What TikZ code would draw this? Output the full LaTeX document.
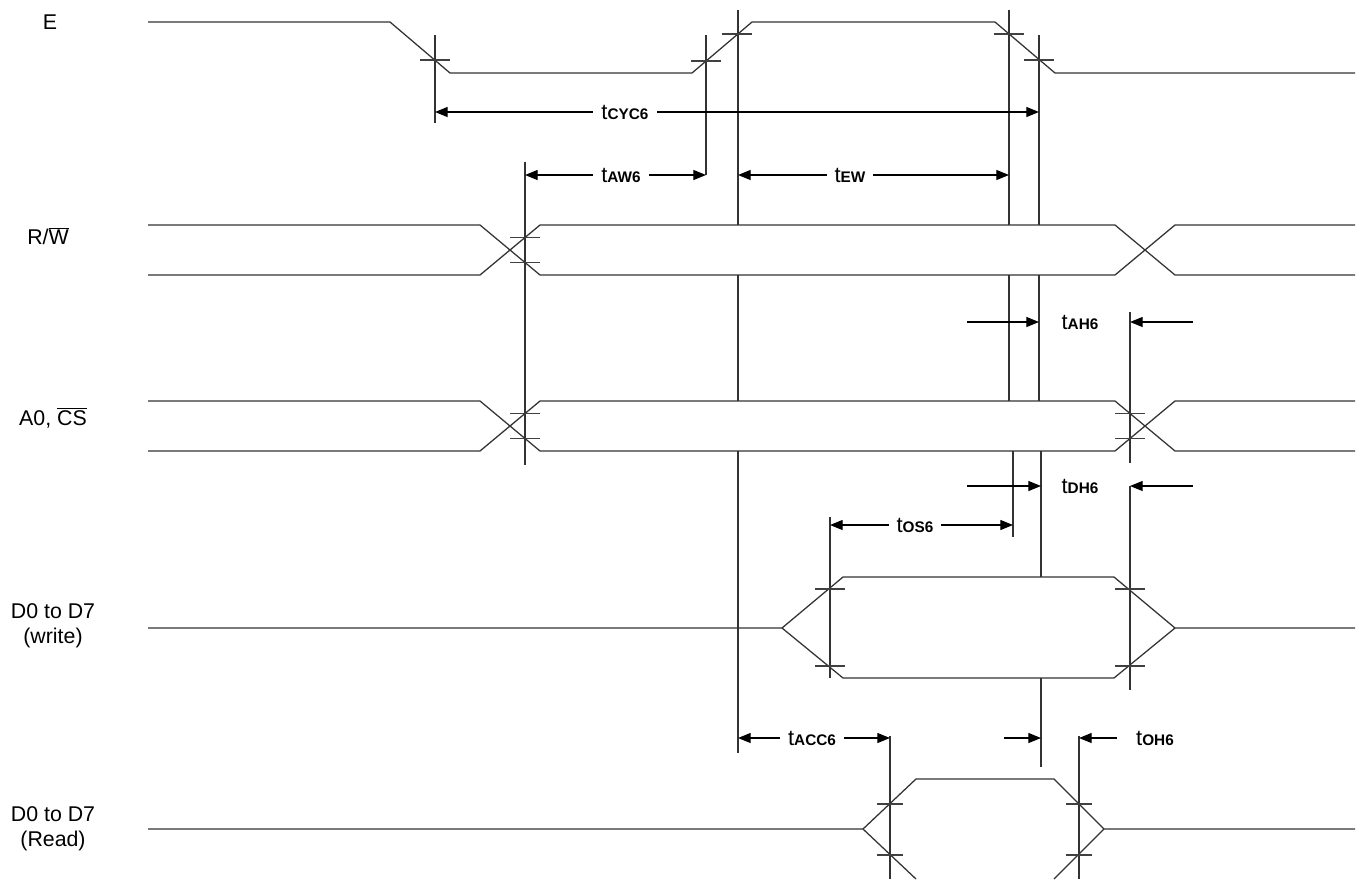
\documentclass[tikz,border=0pt]{standalone}
\usepackage{fontspec}
\setmainfont{Liberation Sans}
\usetikzlibrary{arrows.meta}
\newcommand\tsym[1]{{\fontsize{16.5}{18}\selectfont t}{\fontsize{11.5}{13}\selectfont\bfseries #1}}
\begin{document}
\begin{tikzpicture}[x=0.75pt,y=-0.75pt,line width=0.95pt,
  sig/.style={draw=black!80,line join=miter},
  vln/.style={draw=black!80},
  tck/.style={draw=black!75},
  tri/.tip={Triangle[length=9.5pt,width=7.5pt]},
  dimone/.style={draw=black,-tri},
  dimtwo/.style={draw=black,tri-tri},
  sname/.style={font=\fontsize{16}{19}\selectfont,align=center,inner sep=0pt},
  tlabel/.style={fill=white,inner xsep=6pt,inner ysep=1pt}]
\useasboundingbox (0,0) rectangle (1364,879);

% ---------- signal names ----------
\node[sname] (nE) at (50,22) {E};
\node[sname] (nRW) at (48,236) {R/$\overline{\mbox{W}}$};
\node[sname] (nA0) at (53,418) {A0, $\overline{\mbox{CS}}$};
\node[sname] (nDW) at (53,626) {D0 to D7\\(write)};
\node[sname] (nDR) at (53,829) {D0 to D7\\(Read)};

% ---------- E ----------
\draw[sig] (148,22) -- (390,22) -- (450,73) -- (692,73) -- (752,22) -- (995,22) -- (1055,73) -- (1355,73);

% ---------- R/W ----------
\draw[sig] (148,225) -- (480,225) -- (540,275) -- (1115,275) -- (1175,225) -- (1355,225);
\draw[sig] (148,275) -- (480,275) -- (540,225) -- (1115,225) -- (1175,275) -- (1355,275);

% ---------- A0, CS ----------
\draw[sig] (148,401) -- (480,401) -- (540,451) -- (1115,451) -- (1175,401) -- (1355,401);
\draw[sig] (148,451) -- (480,451) -- (540,401) -- (1115,401) -- (1175,451) -- (1355,451);

% ---------- D0-D7 write ----------
\draw[sig] (148,628) -- (782,628) -- (843,577) -- (1114,577) -- (1175,628) -- (1355,628);
\draw[sig] (782,628) -- (843,678) -- (1114,678) -- (1175,628);

% ---------- D0-D7 read ----------
\draw[sig] (148,829) -- (863,829) -- (916,779) -- (1054,779) -- (1104,829) -- (1355,829);
\draw[sig] (863,829) -- (916,879);
\draw[sig] (1054,879) -- (1104,829);

% ---------- vertical reference lines ----------
\draw[vln] (435,35) -- (435,123);
\draw[vln] (706,35) -- (706,175);
\draw[vln] (738,10) -- (738,225);
\draw[vln] (738,275) -- (738,401);
\draw[vln] (738,451) -- (738,753);
\draw[vln] (1009,10) -- (1009,225);
\draw[vln] (1009,275) -- (1009,401);
\draw[vln] (1039,35) -- (1039,225);
\draw[vln] (1039,275) -- (1039,401);
\draw[vln] (525,162) -- (525,465);
\draw[vln] (1013,451) -- (1013,537);
\draw[vln] (1041,451) -- (1041,577);
\draw[vln] (1041,678) -- (1041,767);
\draw[vln] (830,517) -- (830,678);
\draw[vln] (1130,312) -- (1130,463);
\draw[vln] (1130,486) -- (1130,690);
\draw[vln] (890,736) -- (890,879);
\draw[vln] (1079,736) -- (1079,879);

% ---------- ticks ----------
\foreach \x/\y in {435/60, 706/61, 737/34, 1009/34, 1039/60,
                   525/237.5, 525/262.5, 525/413.5, 525/438.5,
                   1130/413.5, 1130/438.5,
                   830/589, 830/666, 1130/589, 1130/666}
  \draw[tck] (\x-15,\y) -- (\x+15,\y);
\foreach \x/\y in {890/804, 890/855, 1079/804, 1079/855}
  \draw[tck] (\x-13,\y) -- (\x+13,\y);

% ---------- timing dimensions ----------
\coordinate (cyA) at (435,112); \coordinate (cyB) at (1039,112);
\draw[dimtwo] (cyA) -- (cyB);
\node[tlabel] (lcyc) at (625,112) {\tsym{CYC6}};

\coordinate (awA) at (525,175); \coordinate (awB) at (706,175);
\draw[dimtwo] (awA) -- (awB);
\node[tlabel] (law) at (621,175) {\tsym{AW6}};

\coordinate (ewA) at (738,175); \coordinate (ewB) at (1009,175);
\draw[dimtwo] (ewA) -- (ewB);
\node[tlabel] (lew) at (850,175) {\tsym{EW}};

\coordinate (ahA) at (967,322); \coordinate (ahB) at (1039,322);
\coordinate (ahC) at (1193,322); \coordinate (ahD) at (1130,322);
\draw[dimone] (ahA) -- (ahB);
\draw[dimone] (ahC) -- (ahD);
\node (lah) at (1080,322) {\tsym{AH6}};

\coordinate (dhA) at (967,486); \coordinate (dhB) at (1041,486);
\coordinate (dhC) at (1193,486); \coordinate (dhD) at (1130,486);
\draw[dimone] (dhA) -- (dhB);
\draw[dimone] (dhC) -- (dhD);
\node (ldh) at (1080,486) {\tsym{DH6}};

\coordinate (osA) at (830,525); \coordinate (osB) at (1013,525);
\draw[dimtwo] (osA) -- (osB);
\node[tlabel] (los) at (915,525) {\tsym{OS6}};

\coordinate (acA) at (738,738); \coordinate (acB) at (890,738);
\draw[dimtwo] (acA) -- (acB);
\node[tlabel] (lac) at (812,738) {\tsym{ACC6}};

\coordinate (ohA) at (1004,738); \coordinate (ohB) at (1041,738);
\coordinate (ohC) at (1117,738); \coordinate (ohD) at (1079,738);
\draw[dimone] (ohA) -- (ohB);
\draw[dimone] (ohC) -- (ohD);
\node (loh) at (1155,738) {\tsym{OH6}};
\end{tikzpicture}
\end{document}
